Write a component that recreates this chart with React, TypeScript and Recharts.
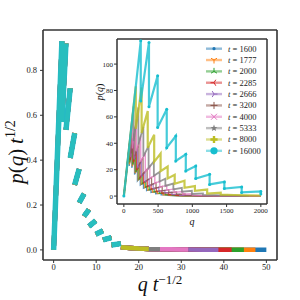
import React from 'react'
import { LineChart, Line, XAxis, YAxis, Legend } from 'recharts'

// one series per run length t
const tValues = [1600, 1777, 2000, 2285, 2666, 3200, 4000, 5333, 8000, 16000]
const seriesColors = [
  '#1f77b4', '#ff7f0e', '#2ca02c', '#d62728', '#9467bd',
  '#8c564b', '#e377c2', '#7f7f7f', '#bcbd22', '#17becf',
]
const markerKinds = [
  'point', 'tri_down', 'tri_up', 'tri_left', 'tri_right',
  'plus', 'x', 'star', 'plus_filled', 'circle',
]

// collapsed curve (q t^-1/2, p(q) t^1/2), one entry per tooth
const toothStartX = [0, 1.95, 2.9, 3.9, 4.95, 6.0, 7.15, 8.3, 9.9, 11.6, 13.6]
const toothStartY = [0, 0.57, 0.535, 0.41, 0.29, 0.21, 0.15, 0.105, 0.07, 0.045, 0.022]
const toothEndX = [1.95, 2.9, 3.9, 4.95, 6.0, 7.15, 8.3, 9.9, 11.6, 13.6, 15.81]
const toothEndY = [0.93, 0.92, 0.72, 0.52, 0.36, 0.25, 0.18, 0.13, 0.085, 0.055, 0.028]

// flat tail where the series stop one after another (q = 2000)
const tailX = [15.81, 18, 20, 22.36, 25, 27.39, 30, 31.62, 35.36, 38.73, 41.84, 44.72, 47.43, 50]
const tailY = [0.012, 0.009, 0.006, 0.004, 0.003, 0.0025, 0.002, 0.0015, 0.0012, 0.001, 0.0008, 0.0006, 0.0005, 0.0004]

const qMax = 2000
const mainXTicks = [0, 10, 20, 30, 40, 50]
const mainYTicks = [0, 0.2, 0.4, 0.6, 0.8]
const insetXTicks = [0, 500, 1000, 1500, 2000]
const insetYTicks = [0, 20, 40, 60, 80, 100]

type Pt = { x: number; y: number | null }

// points of the collapsed curve that series t reaches; gaps break the teeth apart
function collapsed(t: number, gaps: boolean): Pt[] {
  const xEnd = qMax / Math.sqrt(t) + 1e-3
  const pts: Pt[] = []
  toothStartX.forEach((x0, i) => {
    if (toothEndX[i] > xEnd) return
    pts.push({ x: x0, y: toothStartY[i] })
    pts.push({ x: toothEndX[i], y: toothEndY[i] })
    if (gaps) pts.push({ x: toothEndX[i], y: null })
  })
  tailX.forEach((x, i) => {
    if (x <= xEnd) pts.push({ x, y: tailY[i] })
  })
  return pts
}

// back to raw q, p(q) for the inset
function raw(t: number): Pt[] {
  const s = Math.sqrt(t)
  return collapsed(t, false).map(p => ({ x: p.x * s, y: (p.y as number) * s }))
}

const FONT = '"Liberation Serif", "DejaVu Serif", serif'
const AXIS = '#333'

function Marker({ kind, cx, cy, color }: { kind: string; cx: number; cy: number; color: string }) {
  const s = { stroke: color, strokeWidth: 1 }
  switch (kind) {
    case 'point':
      return <circle cx={cx} cy={cy} r={1.6} fill={color} />
    case 'tri_down':
      return <path d={`M${cx},${cy}L${cx},${cy + 3.5}M${cx},${cy}L${cx - 3},${cy - 1.8}M${cx},${cy}L${cx + 3},${cy - 1.8}`} {...s} />
    case 'tri_up':
      return <path d={`M${cx},${cy}L${cx},${cy - 3.5}M${cx},${cy}L${cx - 3},${cy + 1.8}M${cx},${cy}L${cx + 3},${cy + 1.8}`} {...s} />
    case 'tri_left':
      return <path d={`M${cx},${cy}L${cx - 3.5},${cy}M${cx},${cy}L${cx + 1.8},${cy - 3}M${cx},${cy}L${cx + 1.8},${cy + 3}`} {...s} />
    case 'tri_right':
      return <path d={`M${cx},${cy}L${cx + 3.5},${cy}M${cx},${cy}L${cx - 1.8},${cy - 3}M${cx},${cy}L${cx - 1.8},${cy + 3}`} {...s} />
    case 'plus':
      return <path d={`M${cx - 3.5},${cy}L${cx + 3.5},${cy}M${cx},${cy - 3.5}L${cx},${cy + 3.5}`} {...s} />
    case 'x':
      return <path d={`M${cx - 3},${cy - 3}L${cx + 3},${cy + 3}M${cx - 3},${cy + 3}L${cx + 3},${cy - 3}`} {...s} />
    case 'star': {
      const pts: string[] = []
      for (let k = 0; k < 10; k++) {
        const r = k % 2 === 0 ? 3.6 : 1.5
        const a = -Math.PI / 2 + (k * Math.PI) / 5
        pts.push(`${cx + r * Math.cos(a)},${cy + r * Math.sin(a)}`)
      }
      return <polygon points={pts.join(' ')} fill={color} />
    }
    case 'plus_filled':
      return <path d={`M${cx - 3.6},${cy}L${cx + 3.6},${cy}M${cx},${cy - 3.6}L${cx},${cy + 3.6}`} stroke={color} strokeWidth={2.4} />
    default:
      return <circle cx={cx} cy={cy} r={3.6} fill={color} />
  }
}

const ROW = 11.35

function LegendBox() {
  return (
    <svg width={64} height={ROW * tValues.length} style={{ display: 'block', overflow: 'visible' }}>
      {tValues.map((t, i) => {
        const y = i * ROW + ROW / 2
        return (
          <g key={t}>
            <line x1={0} x2={16} y1={y} y2={y} stroke={seriesColors[i]} strokeOpacity={0.5} strokeWidth={2.4} />
            <Marker kind={markerKinds[i]} cx={8} cy={y} color={seriesColors[i]} />
            <text x={22} y={y + 3} fontSize={8.5} fill="#222" fontFamily={FONT}>
              <tspan fontStyle="italic">t</tspan>
              {' = ' + t}
            </text>
          </g>
        )
      })}
    </svg>
  )
}

function MainXLabel() {
  return (
    <text x={160} y={291} fontSize={20} fill="#111" fontFamily={FONT} textAnchor="middle">
      <tspan fontStyle="italic">q</tspan>
      <tspan dx={5} fontStyle="italic">t</tspan>
      <tspan dy={-7} fontSize={13}>−1/2</tspan>
    </text>
  )
}

function MainYLabel() {
  return (
    <text x={0} y={0} transform="translate(23,152) rotate(-90)" fontSize={21} fill="#111" fontFamily={FONT} textAnchor="middle">
      <tspan fontStyle="italic">p</tspan>
      <tspan>(</tspan>
      <tspan fontStyle="italic">q</tspan>
      <tspan>)</tspan>
      <tspan dx={5} fontStyle="italic">t</tspan>
      <tspan dy={-8} fontSize={14}>1/2</tspan>
    </text>
  )
}

function InsetXLabel() {
  return (
    <text x={107} y={192} fontSize={10} fill="#111" fontFamily={FONT} fontStyle="italic" textAnchor="middle">
      q
    </text>
  )
}

function InsetYLabel() {
  return (
    <text x={0} y={0} transform="translate(18,59) rotate(-90)" fontSize={10} fill="#111" fontFamily={FONT} textAnchor="middle">
      <tspan fontStyle="italic">p</tspan>(<tspan fontStyle="italic">q</tspan>)
    </text>
  )
}

export default function App() {
  const tickStyle = { fill: '#222', fontSize: 8.5, fontFamily: FONT }
  const insetTick = { fill: '#222', fontSize: 7, fontFamily: FONT }

  return (
    <div style={{ position: 'absolute', left: 0, top: 0, width: 300, height: 300, background: '#fff', fontFamily: FONT }}>
      {/* main panel: scaling collapse */}
      <div style={{ position: 'absolute', left: 0, top: 0 }}>
        <LineChart width={300} height={300} margin={{ top: 29, right: 22, bottom: 20, left: 0 }}>
          <XAxis
            dataKey="x" type="number" domain={[-2.5, 52.5]} allowDataOverflow ticks={mainXTicks}
            height={20} tickSize={3} tickMargin={1} tick={tickStyle}
            axisLine={{ stroke: AXIS, strokeWidth: 1.6 }} tickLine={{ stroke: AXIS }}
            label={<MainXLabel />}
          />
          <XAxis
            xAxisId="top" orientation="top" dataKey="x" type="number" domain={[-2.5, 52.5]} allowDataOverflow
            ticks={mainXTicks} height={1} tickSize={-3} tick={false}
            axisLine={{ stroke: AXIS, strokeWidth: 1.6 }} tickLine={{ stroke: AXIS }}
          />
          <YAxis
            type="number" domain={[-0.045, 0.98]} allowDataOverflow ticks={mainYTicks}
            width={43} tickSize={3} tickMargin={3} tick={tickStyle}
            tickFormatter={(v: number) => v.toFixed(1)}
            axisLine={{ stroke: AXIS, strokeWidth: 1.6 }} tickLine={{ stroke: AXIS }}
            label={<MainYLabel />}
          />
          <YAxis
            yAxisId="right" orientation="right" type="number" domain={[-0.045, 0.98]} allowDataOverflow
            ticks={mainYTicks} width={1} tickSize={-3} tick={false}
            axisLine={{ stroke: AXIS, strokeWidth: 1.6 }} tickLine={{ stroke: AXIS }}
          />
          {tValues.map((t, i) => (
            <Line
              key={t}
              data={collapsed(t, true)}
              dataKey="y"
              type="linear"
              stroke={seriesColors[i]}
              strokeWidth={i === 9 ? 5.5 : 4.5}
              strokeOpacity={i === 9 ? 0.9 : 1}
              dot={false}
              isAnimationActive={false}
            />
          ))}
        </LineChart>
      </div>

      {/* white face of the inset */}
      <div style={{ position: 'absolute', left: 117, top: 39, width: 150, height: 165, background: '#fff' }} />

      {/* inset: raw p(q) */}
      <div style={{ position: 'absolute', left: 85, top: 33 }}>
        <LineChart width={190} height={200} margin={{ top: 5, right: 7, bottom: 15, left: 0 }}>
          <XAxis
            dataKey="x" type="number" domain={[-100, 2090]} allowDataOverflow ticks={insetXTicks}
            height={14} tickSize={3} tickMargin={1} tick={insetTick}
            axisLine={{ stroke: AXIS, strokeWidth: 1.5 }} tickLine={{ stroke: AXIS }}
            label={<InsetXLabel />}
          />
          <XAxis
            xAxisId="top" orientation="top" dataKey="x" type="number" domain={[-100, 2090]} allowDataOverflow
            ticks={insetXTicks} height={1} tick={false} tickLine={false}
            axisLine={{ stroke: AXIS, strokeWidth: 1.5 }}
          />
          <YAxis
            type="number" domain={[-6, 119]} allowDataOverflow ticks={insetYTicks}
            width={32} tickSize={3} tickMargin={1} tick={insetTick}
            axisLine={{ stroke: AXIS, strokeWidth: 1.5 }} tickLine={{ stroke: AXIS }}
            label={<InsetYLabel />}
          />
          <YAxis
            yAxisId="right" orientation="right" type="number" domain={[-6, 119]} allowDataOverflow
            ticks={insetYTicks} width={1} tick={false} tickLine={false}
            axisLine={{ stroke: AXIS, strokeWidth: 1.5 }}
          />
          {tValues.map((t, i) => (
            <Line
              key={t}
              name={`t = ${t}`}
              data={raw(t)}
              dataKey="y"
              type="linear"
              stroke={seriesColors[i]}
              strokeWidth={i >= 8 ? 2.2 : i === 7 ? 1.8 : 1.3}
              strokeOpacity={0.8}
              dot={i === 9 ? { r: 1.5, fill: seriesColors[i], stroke: 'none' } : false}
              isAnimationActive={false}
            />
          ))}
          <Legend
            layout="vertical"
            align="center"
            verticalAlign="middle"
            wrapperStyle={{ left: 121, top: 10, width: 64 }}
            content={() => <LegendBox />}
          />
        </LineChart>
      </div>
    </div>
  )
}
